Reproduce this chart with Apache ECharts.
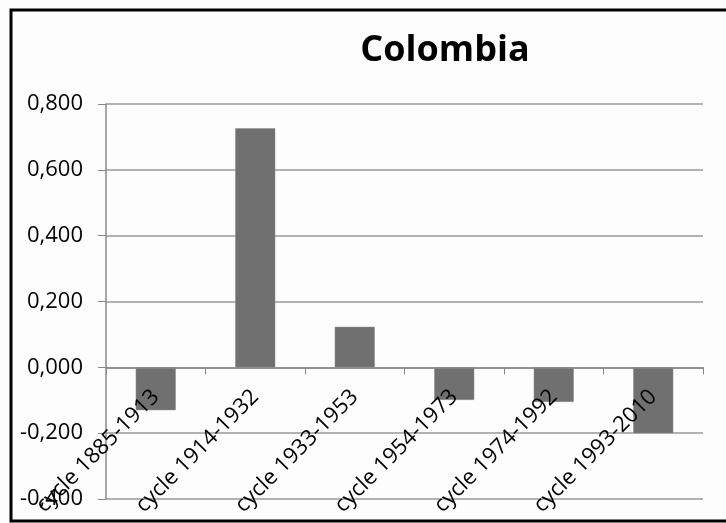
<!DOCTYPE html>
<html>
<head>
<meta charset="utf-8">
<script src="https://cdn.jsdelivr.net/npm/echarts@6/dist/echarts.min.js"></script>
<style>
html,body{margin:0;padding:0;background:#fdfdfd;}
#chart{width:726px;height:523px;}
</style>
</head>
<body>
<div id="chart"></div>
<script>
var titleText = 'Colombia';
var categories = ['cycle 1885-1913','cycle 1914-1932','cycle 1933-1953','cycle 1954-1973','cycle 1974-1992','cycle 1993-2010'];
var values = [-0.130, 0.726, 0.123, -0.099, -0.105, -0.200];
var yMin = -0.4, yMax = 0.8, yStep = 0.2;

var gridTop = 104, gridBottom = 24, H = 523;
var plotH = H - gridTop - gridBottom;
var zeroOffset = -((0 - yMin) / (yMax - yMin)) * plotH;

var chart = echarts.init(document.getElementById('chart'), null, {renderer:'canvas'});
chart.setOption({
  backgroundColor: '#fdfdfd',
  animation: false,
  title: {
    text: titleText,
    left: 440, top: 28,
    textAlign: 'center',
    textStyle: {fontFamily: 'Open Sans', fontWeight: 'bold', fontSize: 36, color: '#000'}
  },
  graphic: [{
    type: 'rect', z: 100, silent: true,
    shape: {x: 11, y: 10, width: 740, height: 511},
    style: {fill: 'none', stroke: '#000', lineWidth: 3}
  }],
  grid: {left: 106, right: 23, top: gridTop, bottom: gridBottom, containLabel: false, outerBoundsMode: 'none'},
  xAxis: {
    type: 'category',
    data: categories,
    z: 10,
    offset: zeroOffset,
    axisLine: {onZero: false, lineStyle: {color: '#888', width: 1.5}},
    axisTick: {show: true, inside: false, length: 7, alignWithLabel: false, lineStyle: {color: '#888'}},
    axisLabel: {rotate: 45, interval: 0, margin: 26, hideOverlap: false, fontFamily: 'Open Sans', fontSize: 22, color: '#000'},
    splitLine: {show: false}
  },
  yAxis: {
    type: 'value',
    min: yMin, max: yMax, interval: yStep,
    axisLine: {show: true, lineStyle: {color: '#888', width: 1.5}},
    axisTick: {show: true, length: 8, lineStyle: {color: '#888'}},
    axisLabel: {margin: 23, fontFamily: 'Open Sans', fontSize: 22, color: '#000',
      formatter: function(v){ return v.toFixed(3).replace('.', ','); }},
    splitLine: {show: true, lineStyle: {color: '#999', width: 1.5}}
  },
  series: [{
    type: 'bar',
    data: values,
    barWidth: 40,
    itemStyle: {color: '#707070', borderColor: '#8a8a8a', borderWidth: 0.5}
  }]
});
</script>
</body>
</html>
